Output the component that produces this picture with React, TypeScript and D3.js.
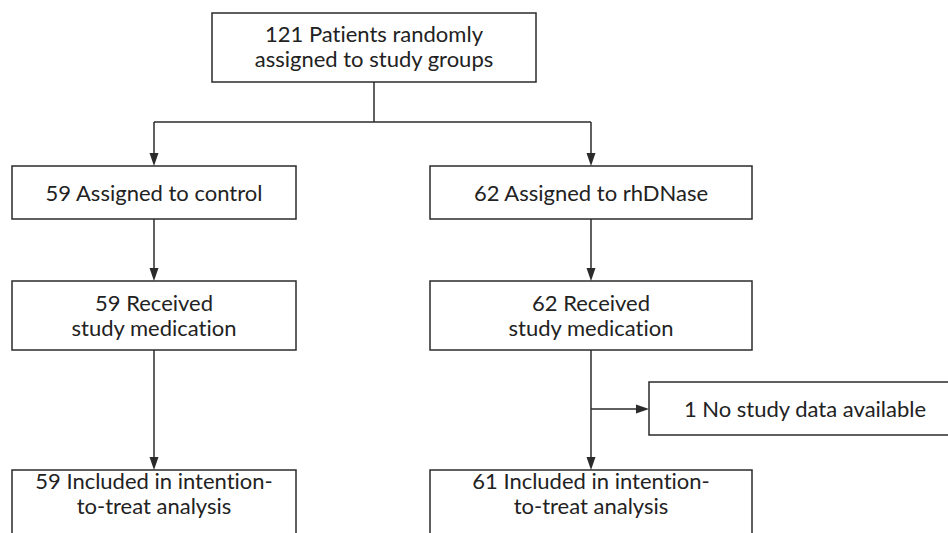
import React from "react";
import * as d3 from "d3";

const W = 948;
const H = 533;

// box labels, one array per step of the trial flow
const enrolment = ["121 Patients randomly", "assigned to study groups"];
const allocation = [["59 Assigned to control"], ["62 Assigned to rhDNase"]];
const received = [
  ["59 Received", "study medication"],
  ["62 Received", "study medication"],
];
const excluded = ["1 No study data available"];
const analysed = [
  ["59 Included in intention-", "to-treat analysis"],
  ["61 Included in intention-", "to-treat analysis"],
];

const groups = ["control", "rhDNase"];
const rows = ["enrol", "alloc", "recv", "excl", "anal"];

const ink = "#2b2b2b";

export default function App() {
  // column centres and row tops
  const colX = d3.scaleOrdinal<string, number>().domain(groups).range([154, 591]);
  const rowY = d3.scaleOrdinal<string, number>().domain(rows).range([13, 166, 281, 382, 470]);
  const colW = d3.scaleOrdinal<string, number>().domain(groups).range([284, 322]);

  type Box = { x: number; y: number; w: number; h: number; lines: string[]; t: number; dx: number };
  const boxes: Box[] = [];
  boxes.push({ x: 374 - 162, y: rowY("enrol"), w: 324, h: 69, lines: enrolment, t: 29, dx: 0 });
  groups.forEach((g, i) => {
    const cx = colX(g), w = colW(g);
    boxes.push({ x: cx - w / 2, y: rowY("alloc"), w, h: 53, lines: allocation[i], t: 35, dx: 0 });
    boxes.push({ x: cx - w / 2, y: rowY("recv"), w, h: 69, lines: received[i], t: 30, dx: 0 });
    boxes.push({ x: cx - w / 2, y: rowY("anal"), w, h: 80, lines: analysed[i], t: 19, dx: 0 });
  });
  const exclX = 649;
  boxes.push({ x: exclX, y: rowY("excl"), w: 302, h: 53, lines: excluded, t: 35, dx: 5 });

  // connectors: [x1,y1,x2,y2,arrow]
  const topCx = 374;
  const lines: [number, number, number, number, boolean][] = [
    [topCx, 82, topCx, 122, false],
    [colX("control"), 122, colX("rhDNase"), 122, false],
  ];
  groups.forEach((g) => {
    const cx = colX(g);
    lines.push([cx, 122, cx, rowY("alloc"), true]);
    lines.push([cx, rowY("alloc") + 53, cx, rowY("recv"), true]);
    lines.push([cx, rowY("recv") + 69, cx, rowY("anal"), true]);
  });
  const branchY = rowY("excl") + 27;
  lines.push([colX("rhDNase"), branchY, exclX, branchY, true]);

  const arrowHead = (x1: number, y1: number, x2: number, y2: number) => {
    const a = Math.atan2(y2 - y1, x2 - x1);
    const len = 13, half = 4.5;
    const bx = x2 - len * Math.cos(a), by = y2 - len * Math.sin(a);
    const p = d3.path();
    p.moveTo(x2, y2);
    p.lineTo(bx + half * Math.sin(a), by - half * Math.cos(a));
    p.lineTo(bx - half * Math.sin(a), by + half * Math.cos(a));
    p.closePath();
    return p.toString();
  };

  return (
    <svg width={W} height={H} style={{ position: "absolute", left: 0, top: 0, background: "#fff" }}>
      {boxes.map((b, i) => (
        <g key={i}>
          <rect x={b.x} y={b.y} width={b.w} height={b.h} fill="#fff" stroke={ink} strokeWidth={1.5} />
          {b.lines.map((l, j) => (
            <text
              key={j}
              x={b.x + b.w / 2 + b.dx}
              y={b.y + b.t + j * 25}
              textAnchor="middle"
              fontFamily="Lato, 'Open Sans', sans-serif"
              fontSize={22}
              fill="#222"
              style={{ fontVariantLigatures: "none", fontFeatureSettings: "'liga' 0" }}
            >
              {l}
            </text>
          ))}
        </g>
      ))}
      {lines.map(([x1, y1, x2, y2, arr], i) => (
        <g key={"l" + i}>
          <line x1={x1} y1={y1} x2={arr ? x2 - (x2 - x1 === 0 ? 0 : 10) : x2} y2={arr ? y2 - (y2 - y1 === 0 ? 0 : 10) : y2} stroke={ink} strokeWidth={1.5} />
          {arr && <path d={arrowHead(x1, y1, x2, y2)} fill={ink} />}
        </g>
      ))}
    </svg>
  );
}
